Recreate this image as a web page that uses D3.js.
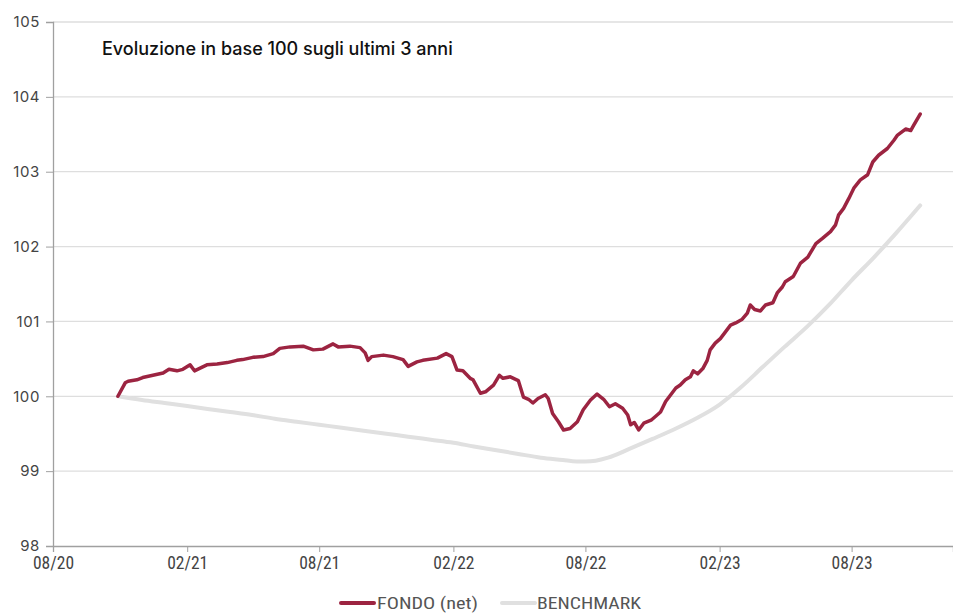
<!DOCTYPE html>
<html>
<head>
<meta charset="utf-8">
<script src="https://cdn.jsdelivr.net/npm/d3@7"></script>
<style>
  body { margin: 0; background: #fff; }
  svg text { font-family: Inter, Roboto, "DejaVu Sans", sans-serif; }
  .narrow { font-family: "Liberation Sans Narrow", "Roboto Condensed", "DejaVu Sans Condensed", sans-serif !important; }
</style>
</head>
<body>
<div id="chart"></div>
<script>
// Data
const fundDates = [
  '2020-10-29','2020-11-08','2020-11-12','2020-11-24','2020-12-02','2020-12-16','2020-12-30',
  '2021-01-07','2021-01-18','2021-01-26','2021-02-05','2021-02-11','2021-02-28','2021-03-14',
  '2021-03-28','2021-04-10','2021-04-18','2021-05-02','2021-05-16','2021-05-30','2021-06-08',
  '2021-06-22','2021-07-10','2021-07-24','2021-08-06','2021-08-20','2021-08-27','2021-09-12',
  '2021-09-26','2021-10-03','2021-10-07','2021-10-12','2021-10-28','2021-11-10','2021-11-24',
  '2021-12-01','2021-12-13','2021-12-21','2022-01-10','2022-01-22','2022-01-30','2022-02-06',
  '2022-02-14','2022-02-24','2022-02-28','2022-03-10','2022-03-17','2022-03-28','2022-04-05',
  '2022-04-10','2022-04-20','2022-05-01','2022-05-08','2022-05-15','2022-05-21','2022-05-28',
  '2022-06-07','2022-06-11','2022-06-17','2022-06-25','2022-07-02','2022-07-11','2022-07-21',
  '2022-07-29','2022-08-08','2022-08-17','2022-08-26','2022-09-03','2022-09-11','2022-09-21',
  '2022-09-28','2022-10-02','2022-10-07','2022-10-13','2022-10-20','2022-10-30','2022-11-05',
  '2022-11-12','2022-11-19','2022-11-26','2022-12-03','2022-12-09','2022-12-16','2022-12-23',
  '2022-12-27','2023-01-02','2023-01-09','2023-01-15','2023-01-19','2023-01-26','2023-02-02',
  '2023-02-09','2023-02-16','2023-02-23','2023-03-04','2023-03-11','2023-03-15','2023-03-21',
  '2023-03-29','2023-04-05','2023-04-15','2023-04-21','2023-04-28','2023-05-02','2023-05-13',
  '2023-05-23','2023-06-02','2023-06-13','2023-06-22','2023-07-03','2023-07-10','2023-07-14',
  '2023-07-21','2023-07-28','2023-08-04','2023-08-13','2023-08-23','2023-08-30','2023-09-07',
  '2023-09-19','2023-09-28','2023-10-03','2023-10-14','2023-10-21','2023-10-25','2023-11-03'
];
const fundValues = [
  100.00,100.18,100.20,100.22,100.25,100.28,100.31,
  100.36,100.34,100.36,100.42,100.34,100.42,100.43,
  100.45,100.48,100.49,100.52,100.53,100.57,100.64,
  100.66,100.67,100.62,100.63,100.70,100.66,100.67,
  100.65,100.58,100.48,100.53,100.55,100.53,100.49,
  100.40,100.46,100.48,100.51,100.57,100.53,100.35,
  100.34,100.24,100.22,100.04,100.06,100.15,100.28,
  100.24,100.26,100.21,99.99,99.96,99.91,99.97,
  100.02,99.97,99.77,99.66,99.55,99.57,99.66,
  99.82,99.95,100.03,99.96,99.86,99.90,99.84,
  99.75,99.62,99.65,99.55,99.64,99.68,99.73,
  99.79,99.93,100.02,100.11,100.15,100.22,100.26,
  100.34,100.30,100.37,100.48,100.62,100.71,100.77,
  100.86,100.95,100.98,101.03,101.11,101.22,101.16,
  101.14,101.22,101.25,101.38,101.46,101.53,101.60,
  101.78,101.86,102.04,102.11,102.20,102.29,102.42,
  102.51,102.64,102.78,102.89,102.96,103.13,103.22,
  103.31,103.42,103.49,103.57,103.55,103.62,103.77
];

const benchDates = [
  '2020-10-29','2020-12-01','2021-01-01','2021-02-01','2021-03-01','2021-04-01','2021-05-01',
  '2021-06-01','2021-07-01','2021-08-01','2021-09-01','2021-10-01','2021-11-01','2021-12-01',
  '2022-01-01','2022-02-01','2022-03-01','2022-04-01','2022-05-01','2022-06-01','2022-07-01',
  '2022-07-20','2022-08-01','2022-08-15','2022-09-01','2022-10-01','2022-11-01','2022-12-01',
  '2023-01-01','2023-02-01','2023-03-01','2023-04-01','2023-05-01','2023-06-01','2023-07-01',
  '2023-08-01','2023-09-01','2023-10-01','2023-11-03'
];
const benchValues = [
  100.00,99.95,99.91,99.87,99.83,99.79,99.75,
  99.70,99.66,99.62,99.58,99.54,99.50,99.46,
  99.42,99.38,99.33,99.28,99.23,99.18,99.15,
  99.13,99.13,99.14,99.18,99.30,99.43,99.56,
  99.71,99.89,100.11,100.39,100.66,100.93,101.22,
  101.55,101.86,102.18,102.55
];

const yTicks = [98, 99, 100, 101, 102, 103, 104, 105];
const xTicks = ['2020-08-01','2021-02-01','2021-08-01','2022-02-01','2022-08-01','2023-02-01','2023-08-01'];
const seriesNames = ['FONDO (net)', 'BENCHMARK'];
const seriesColors = ['#9c2441', '#e0e0e0'];

const W = 953, H = 614;
const margin = { top: 22, right: 0, bottom: 68, left: 53 };
const parse = d3.timeParse('%Y-%m-%d');

const svg = d3.select('#chart').append('svg')
    .attr('width', W)
    .attr('height', H);

const x = d3.scaleTime()
    .domain([parse('2020-08-01'), parse('2023-12-18')])
    .range([margin.left, W - margin.right]);

const y = d3.scaleLinear()
    .domain([98, 105])
    .range([H - margin.bottom, margin.top]);

// gridlines
svg.append('g')
    .selectAll('line')
    .data(yTicks.filter(d => d !== 98))
    .join('line')
    .attr('x1', margin.left)
    .attr('x2', W - margin.right)
    .attr('y1', d => y(d))
    .attr('y2', d => y(d))
    .attr('stroke', '#dedede')
    .attr('stroke-width', 1.3);

// y axis
const yAxis = svg.append('g')
    .attr('transform', `translate(${margin.left},0)`)
    .call(d3.axisLeft(y).tickValues(yTicks).tickSize(7).tickPadding(6).tickFormat(d3.format('d')));
yAxis.select('.domain').attr('stroke', '#a0a0a0').attr('stroke-width', 1.3);
yAxis.selectAll('.tick line').attr('stroke', '#a0a0a0');
yAxis.selectAll('.tick text')
    .style('font-size', '15px')
    .style('letter-spacing', '0.6px')
    .attr('fill', '#444');

// x axis
const xAxis = svg.append('g')
    .attr('transform', `translate(0,${H - margin.bottom})`)
    .call(d3.axisBottom(x).tickValues(xTicks.map(parse)).tickSize(6).tickPadding(5)
        .tickFormat(d3.timeFormat('%m/%y')));
xAxis.select('.domain').attr('stroke', '#a0a0a0').attr('stroke-width', 1.3);
xAxis.selectAll('.tick line').attr('stroke', '#a0a0a0');
xAxis.selectAll('.tick text')
    .attr('class', 'narrow')
    .style('font-size', '17.5px')
    .attr('fill', '#444');

// lines
const line = d3.line()
    .x(d => x(d.date))
    .y(d => y(d.value));

const bench = benchDates.map((d, i) => ({ date: parse(d), value: benchValues[i] }));
const fund = fundDates.map((d, i) => ({ date: parse(d), value: fundValues[i] }));

svg.append('path')
    .datum(bench)
    .attr('d', line.curve(d3.curveMonotoneX))
    .attr('fill', 'none')
    .attr('stroke', seriesColors[1])
    .attr('stroke-width', 4)
    .attr('stroke-linecap', 'round');

svg.append('path')
    .datum(fund)
    .attr('d', line.curve(d3.curveLinear))
    .attr('fill', 'none')
    .attr('stroke', seriesColors[0])
    .attr('stroke-width', 3.5)
    .attr('stroke-linejoin', 'round')
    .attr('stroke-linecap', 'round');

// title
svg.append('text')
    .attr('x', 102)
    .attr('y', 55)
    .style('font-size', '18px')
    .style('font-weight', 500)
    .attr('fill', '#111')
    .text('Evoluzione in base 100 sugli ultimi 3 anni');

// legend
const legendX = [341, 502];
const textX = [377, 537];
const textW = [101, 104];
seriesNames.forEach((name, i) => {
    svg.append('line')
        .attr('x1', legendX[i])
        .attr('x2', legendX[i] + 33)
        .attr('y1', 603)
        .attr('y2', 603)
        .attr('stroke', seriesColors[i])
        .attr('stroke-width', 4)
        .attr('stroke-linecap', 'round');
    svg.append('text')
        .attr('class', 'narrow')
        .attr('x', textX[i])
        .attr('y', 609)
        .attr('textLength', textW[i])
        .attr('lengthAdjust', 'spacingAndGlyphs')
        .style('font-size', '16px')
        .attr('fill', '#555')
        .text(name);
});
</script>
</body>
</html>
